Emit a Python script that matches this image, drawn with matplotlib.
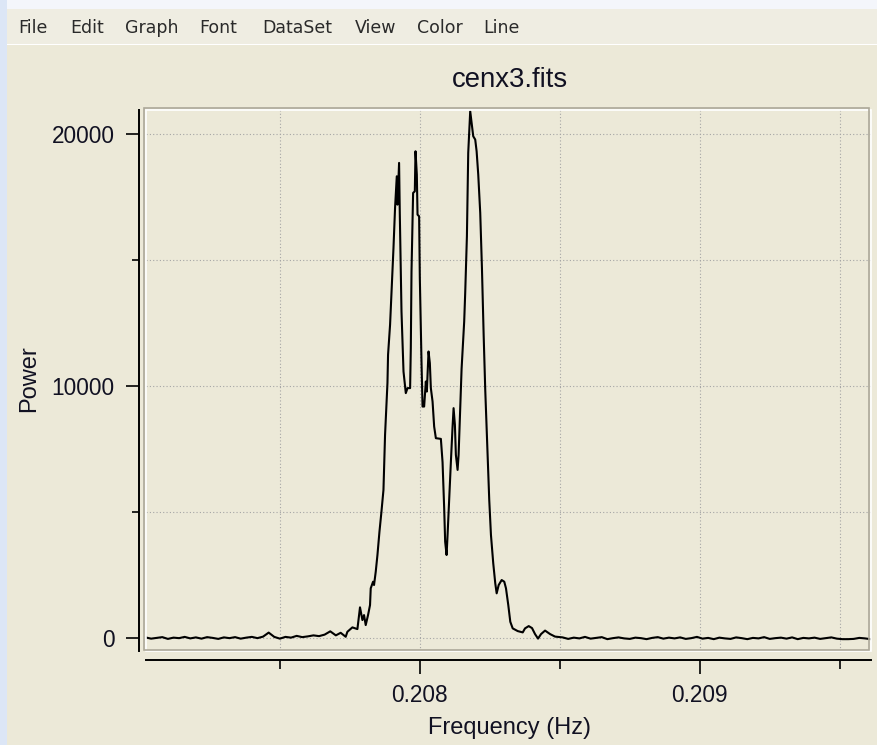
import numpy as np
import matplotlib
matplotlib.use('Agg')
import matplotlib.pyplot as plt
from matplotlib.patches import Rectangle

# ---- data ----
# left baseline, 0.20702 .. 0.20770 Hz
base_left_freq = [0.20702, 0.20704, 0.20706, 0.20708, 0.20710, 0.20712, 0.20714,
                  0.20716, 0.20718, 0.20720, 0.20722, 0.20724, 0.20726, 0.20728,
                  0.20730, 0.20732, 0.20734, 0.20736, 0.20738, 0.20740, 0.20742,
                  0.20744, 0.20746, 0.20748, 0.20750, 0.20752, 0.20754, 0.20756,
                  0.20758, 0.20760, 0.20762, 0.20764, 0.20766, 0.20768, 0.20770]
base_left_power = [40, -10, 20, 50, -20, 30, 10, 60, 0, 40,
                   -10, 50, 20, -20, 40, 10, 50, -10, 30, 60,
                   10, 70, 230, 60, -10, 60, 30, 100, 50, 80,
                   120, 90, 150, 280, 120]

# the three-peak line
peak_freq = [0.2077173, 0.2077352, 0.2077412, 0.2077591, 0.2077770, 0.2077863, 0.2077949,
             0.2078007, 0.2078067, 0.2078150, 0.2078221, 0.2078246, 0.2078329, 0.2078364,
             0.2078425, 0.2078486, 0.2078558, 0.2078629, 0.2078701, 0.2078758, 0.2078844,
             0.2078865, 0.2078937, 0.2078998, 0.2079059, 0.2079116, 0.2079177, 0.2079202,
             0.2079259, 0.2079284, 0.2079345, 0.2079417, 0.2079499, 0.2079560, 0.2079653,
             0.2079678, 0.2079703, 0.2079760, 0.2079821, 0.2079846, 0.2079893, 0.2079918,
             0.2079975, 0.2080000, 0.2080061, 0.2080097, 0.2080154, 0.2080215, 0.2080251,
             0.2080311, 0.2080358, 0.2080394, 0.2080455, 0.2080512, 0.2080573, 0.2080752,
             0.2080812, 0.2080870, 0.2080905, 0.2080956, 0.2080991, 0.2081049, 0.2081110,
             0.2081170, 0.2081206, 0.2081253, 0.2081288, 0.2081349, 0.2081385, 0.2081432,
             0.2081492, 0.2081585, 0.2081621, 0.2081682, 0.2081729, 0.2081800, 0.2081850,
             0.2081908, 0.2081979, 0.2082029, 0.2082087, 0.2082158, 0.2082219, 0.2082280,
             0.2082337, 0.2082423, 0.2082480, 0.2082541, 0.2082623, 0.2082695, 0.2082745,
             0.2082817, 0.2082924, 0.2083017, 0.2083078, 0.2083160, 0.2083232, 0.2083318,
             0.2083497, 0.2083676, 0.2083758, 0.2083890, 0.2084008, 0.2084116, 0.2084223,
             0.2084330, 0.2084474, 0.2084653, 0.2084832]
peak_power = [222, 64, 262, 437, 369, 1231, 727,
              925, 528, 925, 1322, 1986, 2248, 2117,
              2645, 3308, 4233, 5027, 5889, 8073, 10138,
              11250, 12441, 13962, 15487, 17099, 18330, 17206,
              18862, 16877, 12969, 10587, 9729, 9928, 9928,
              11516, 14558, 17671, 17735, 19323, 18398, 16809,
              16742, 14296, 10920, 9197, 9197, 10190, 9792,
              11381, 10920, 9928, 9395, 8403, 7942, 7914,
              6989, 5162, 3836, 3308, 4102, 5559, 7013,
              8403, 9133, 8470, 7279, 6683, 7279, 8736,
              10694, 12572, 13700, 15948, 19259, 20911, 20451,
              19919, 19787, 19323, 18398, 16877, 14693, 12044,
              9860, 7279, 5492, 4102, 2978, 2184, 1787,
              2117, 2315, 2248, 1986, 1322, 659, 397,
              290, 238, 397, 488, 409, 171, -8,
              171, 310, 171, 71]

# right baseline, 0.20851 .. 0.20961 Hz
base_right_freq = [0.20851, 0.20853, 0.20855, 0.20857, 0.20859, 0.20861, 0.20863, 0.20865,
                   0.20867, 0.20869, 0.20871, 0.20873, 0.20875, 0.20877, 0.20879, 0.20881,
                   0.20883, 0.20885, 0.20887, 0.20889, 0.20891, 0.20893, 0.20895, 0.20897,
                   0.20899, 0.20901, 0.20903, 0.20905, 0.20907, 0.20909, 0.20911, 0.20913,
                   0.20915, 0.20917, 0.20919, 0.20921, 0.20923, 0.20925, 0.20927, 0.20929,
                   0.20931, 0.20933, 0.20935, 0.20937, 0.20939, 0.20941, 0.20943, 0.20945,
                   0.20947, 0.20949, 0.20951, 0.20953, 0.20955, 0.20957, 0.20959, 0.20961]
base_right_power = [40, -20, 30, 0, 60, -10, 20, 50, -30, 10,
                    40, 0, -20, 30, 10, -30, 20, 50, -10, 30,
                    0, 40, -20, 10, 60, -10, 20, -30, 30, 0,
                    -20, 40, 10, -30, 20, 0, 50, -20, 10, 30,
                    -10, 40, -30, 20, 0, 30, -20, 10, 40, -10,
                    -30, -30, -20, 20, 0, -30]

x_major = [0.208, 0.209]
x_minor = [0.2075, 0.2085, 0.2095]
y_major = [0, 10000, 20000]
y_minor = [5000, 15000]
menu_items = ['File', 'Edit', 'Graph', 'Font', 'DataSet', 'View', 'Color', 'Line']

freq = np.array(base_left_freq + peak_freq + base_right_freq)
power = np.array(base_left_power + peak_power + base_right_power)

# ---- look ----
W, H = 877, 745
face = '#ECE9D8'
txt = '#111122'
plt.rcParams['font.family'] = ['Liberation Sans', 'DejaVu Sans']

fig = plt.figure(figsize=(W / 100, H / 100), dpi=100, facecolor=face)

def px(x, y, w, h):
    # pixel box (top-left origin) -> figure fraction
    return [x / W, 1 - (y + h) / H, w / W, h / H]

# window chrome
fig.patches.append(Rectangle((0, 1 - 45 / H), 1, 45 / H, transform=fig.transFigure,
                             facecolor='#EFEDE2', edgecolor='none', zorder=0))
fig.patches.append(Rectangle((0, 1 - 9 / H), 1, 9 / H, transform=fig.transFigure,
                             facecolor='#F4F6FB', edgecolor='none', zorder=0))
fig.patches.append(Rectangle((0, 0), 7 / W, 1, transform=fig.transFigure,
                             facecolor='#DCE6F6', edgecolor='none', zorder=0))
fig.patches.append(Rectangle((7 / W, 1 - 45 / H), 1, 1.5 / H, transform=fig.transFigure,
                             facecolor='white', edgecolor='none', zorder=0))

menu_x = [18, 70, 125, 199, 262, 355, 417, 483]
for name, mx in zip(menu_items, menu_x):
    fig.text(mx / W, 1 - 33 / H, name, fontsize=12.5, color='#2a2a2a',
             family='DejaVu Sans', ha='left', va='baseline')

ax = fig.add_axes(px(145.5, 109.5, 725, 541.5))
ax.set_facecolor(face)

ax.plot(freq, power, color='black', linewidth=1.5, zorder=3)
ax.set_xlim(0.20702, 0.20961)
ax.set_ylim(-500, 20980)

ax.set_xticks(x_major)
ax.set_xticks(x_minor, minor=True)
ax.set_xticklabels(['0.208', '0.209'])
ax.set_yticks(y_major)
ax.set_yticks(y_minor, minor=True)
ax.set_yticklabels(['0', '10000', '20000'])

ax.grid(True, which='both', color='#A5A5A5', linestyle=(0, (1, 2)), linewidth=0.8)
ax.set_axisbelow(True)

# sunken frame around plot area
for s in ['top', 'right']:
    ax.spines[s].set_visible(False)
ax.add_patch(Rectangle((0, 0), 1, 1, transform=ax.transAxes, fill=False,
                       edgecolor='white', linewidth=1.2, clip_on=False, zorder=4))
ax.add_patch(Rectangle((-0.0015, 0.0025), 1, 1, transform=ax.transAxes, fill=False,
                       edgecolor='#ACA899', linewidth=1.2, clip_on=False, zorder=5))

# detached black axis lines
ax.spines['left'].set_position(('outward', 4.7))
ax.spines['bottom'].set_position(('outward', 6.5))
ax.spines['left'].set_linewidth(1.4)
ax.spines['bottom'].set_linewidth(1.4)

ax.tick_params(axis='y', which='major', length=9.4, width=1.2, pad=8,
               labelsize=16.3, labelcolor=txt)
ax.tick_params(axis='y', which='minor', length=5, width=1.2)
ax.tick_params(axis='x', which='major', length=10, width=1.2, pad=7,
               labelsize=16.3, labelcolor=txt)
ax.tick_params(axis='x', which='minor', length=6.5, width=1.2)

fig.text(510 / W, 1 - 87.3 / H, 'cenx3.fits', fontsize=19.8,
         ha='center', va='baseline', color=txt)
fig.text(510 / W, 1 - 728 / H, 'Frequency (Hz)', fontsize=17,
         ha='center', va='center', color=txt)
fig.text(29 / W, 1 - 379 / H, 'Power', fontsize=17, rotation=90,
         ha='center', va='center', color=txt)

plt.savefig('out.png', dpi=100, facecolor=fig.get_facecolor())
